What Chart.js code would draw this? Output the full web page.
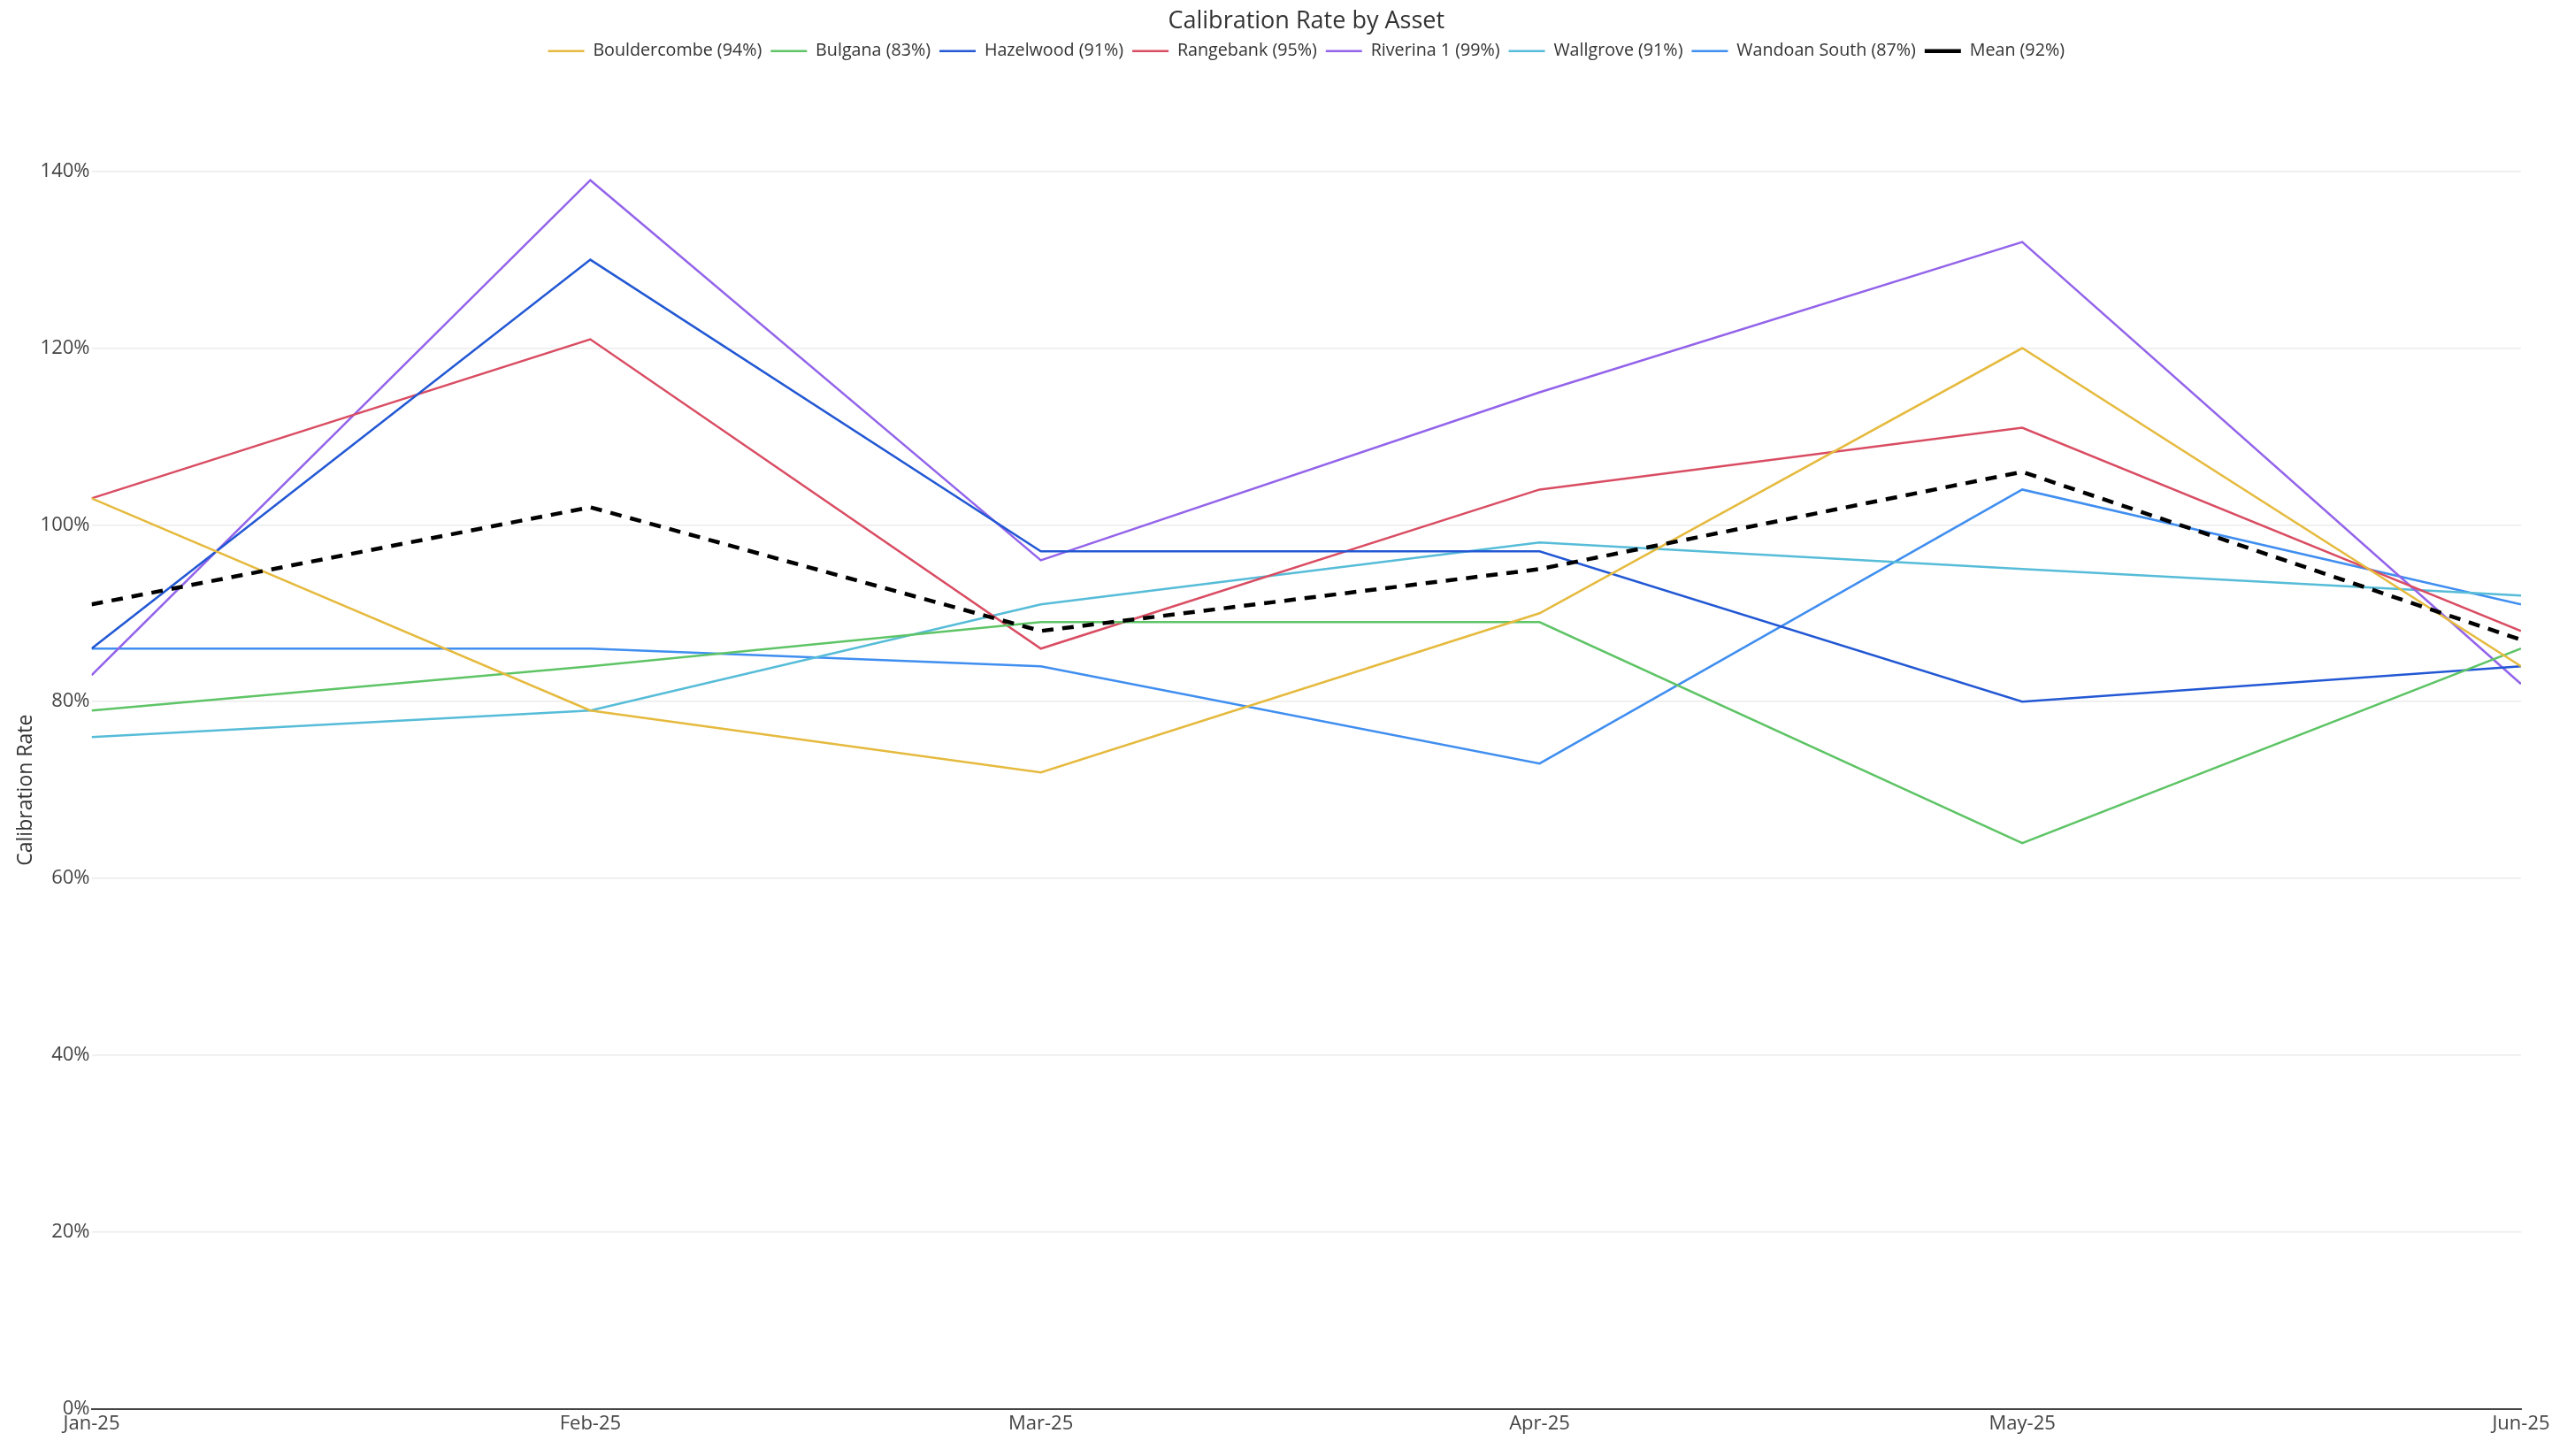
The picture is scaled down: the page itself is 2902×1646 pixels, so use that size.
<!DOCTYPE html>
<html>
<head>
<meta charset="utf-8">
<script src="https://cdn.jsdelivr.net/npm/chart.js@4.4.1/dist/chart.umd.min.js"></script>
<style>
  html, body { margin: 0; padding: 0; background: #fff; }
  #wrap { width: 2902px; height: 1646px; }
</style>
</head>
<body>
<div id="wrap"><canvas id="rate-chart"></canvas></div>
<script>
// months on a real date axis (spacing follows days per month)
var monthDates = ['2025-01-01', '2025-02-01', '2025-03-01', '2025-04-01', '2025-05-01', '2025-06-01'];
var monthLabels = ['Jan-25', 'Feb-25', 'Mar-25', 'Apr-25', 'May-25', 'Jun-25'];

var bouldercombe = [103, 79, 72, 90, 120, 84];
var bulgana      = [79, 84, 89, 89, 64, 86];
var hazelwood    = [86, 130, 97, 97, 80, 84];
var rangebank    = [103, 121, 86, 104, 111, 88];
var riverina1    = [83, 139, 96, 115, 132, 82];
var wallgrove    = [76, 79, 91, 98, 95, 92];
var wandoanSouth = [86, 86, 84, 73, 104, 91];
var mean         = [91, 102, 88, 95, 106, 87];

var yTicks = [0, 20, 40, 60, 80, 100, 120, 140];

var day0 = Date.parse(monthDates[0]);
var days = monthDates.map(function(d){ return (Date.parse(d) - day0) / 86400000; });

var FONT = '"Open Sans", "Noto Sans", sans-serif';

function series(label, values, color) {
  return {
    label: label,
    data: values.map(function(v, i){ return {x: days[i], y: v}; }),
    borderColor: color,
    backgroundColor: color,
    borderWidth: 2.5,
    pointRadius: 0,
    tension: 0
  };
}

var meanSet = series('Mean (92%)', mean, '#000000');
meanSet.borderWidth = 4.5;
meanSet.borderDash = [13, 10];
meanSet.order = -1;

// push the plot down below the legend
var legendGap = {
  id: 'legendGap',
  beforeInit: function(chart) {
    var fit = chart.legend.fit;
    chart.legend.fit = function() {
      fit.bind(chart.legend)();
      this.height += 116;
    };
  }
};

new Chart(document.getElementById('rate-chart'), {
  type: 'line',
  data: {
    datasets: [
      series('Bouldercombe (94%)', bouldercombe, '#e5ba3e'),
      series('Bulgana (83%)', bulgana, '#5ec466'),
      series('Hazelwood (91%)', hazelwood, '#2358d4'),
      series('Rangebank (95%)', rangebank, '#d94d63'),
      series('Riverina 1 (99%)', riverina1, '#9364ea'),
      series('Wallgrove (91%)', wallgrove, '#56bcd8'),
      series('Wandoan South (87%)', wandoanSouth, '#3f8ef0'),
      meanSet
    ]
  },
  options: {
    responsive: true,
    maintainAspectRatio: false,
    animation: false,
    layout: { padding: { left: 0, right: 52, top: 0, bottom: 19 } },
    plugins: {
      title: {
        display: true,
        text: 'Calibration Rate by Asset',
        fullSize: false,
        color: '#333333',
        font: { family: FONT, size: 27, weight: 'normal', lineHeight: 1.0 },
        padding: { top: 11, bottom: 0 }
      },
      legend: {
        fullSize: false,
        labels: {
          usePointStyle: true,
          pointStyle: 'line',
          pointStyleWidth: 41,
          boxHeight: 19,
          padding: 10,
          color: '#333333',
          font: { family: FONT, size: 19.7 },
          sort: function(a, b){ return a.datasetIndex - b.datasetIndex; }
        }
      },
      tooltip: { enabled: false }
    },
    scales: {
      x: {
        type: 'linear',
        min: days[0],
        max: days[days.length - 1],
        afterBuildTicks: function(axis) {
          axis.ticks = days.map(function(d){ return {value: d}; });
        },
        ticks: {
          autoSkip: false,
          maxRotation: 0,
          padding: 4,
          color: '#444444',
          font: { family: FONT, size: 22 },
          callback: function(value) {
            var i = days.indexOf(value);
            return i >= 0 ? monthLabels[i] : '';
          }
        },
        grid: { display: false, drawTicks: false },
        border: { display: true, color: '#444444', width: 2 }
      },
      y: {
        min: 0,
        max: 140,
        afterBuildTicks: function(axis) {
          axis.ticks = yTicks.map(function(v){ return {value: v}; });
        },
        ticks: {
          padding: 2,
          color: '#444444',
          font: { family: FONT, size: 22 },
          callback: function(value){ return value + '%'; }
        },
        grid: { color: '#ebebeb', lineWidth: 1.5, drawTicks: false },
        border: { display: false },
        title: {
          display: true,
          text: 'Calibration Rate',
          color: '#333333',
          font: { family: FONT, size: 23 },
          padding: { top: 16, bottom: 0 }
        }
      }
    }
  },
  plugins: [legendGap]
});
</script>
</body>
</html>
